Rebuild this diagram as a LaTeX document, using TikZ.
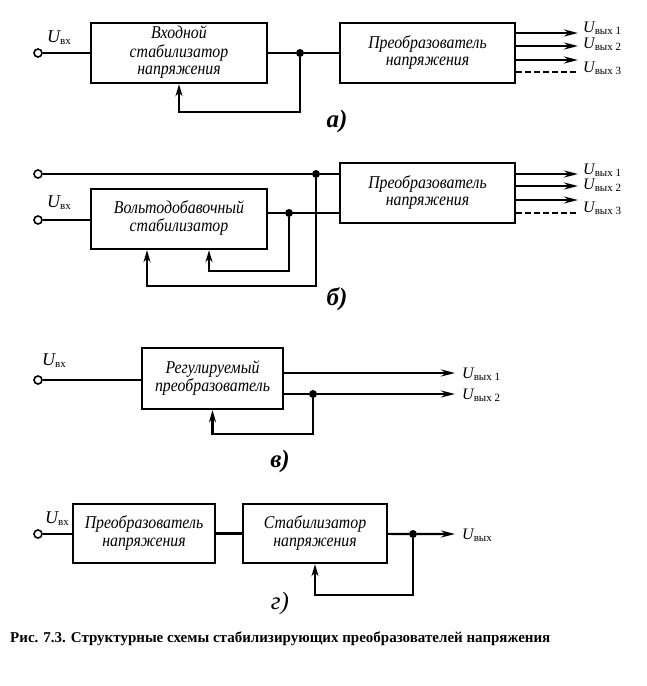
\documentclass[tikz,border=0pt]{standalone}
\usepackage{fontspec}
\setmainfont{Liberation Serif}
\usetikzlibrary{arrows.meta}

\tikzset{
  blk/.style={draw, line width=2.4pt, inner sep=0pt,
    font=\itshape\fontsize{18}{17.5}\selectfont},
  term/.style={draw, circle, fill=white, line width=1.6pt, inner sep=0pt, minimum size=8pt},
  dot/.style={circle, fill, inner sep=0pt, minimum size=8pt},
  wire/.style={line width=2.2pt},
  fb/.style={wire, -{Stealth[length=12pt,width=7pt]}},
  outw/.style={wire, -{Stealth[length=14pt,width=7pt]}},
  ulbl/.style={anchor=base west, inner sep=0pt, xshift=5pt},
  uin/.style={anchor=base west, inner sep=0pt},
  lbl/.style={font=\bfseries\itshape\fontsize{25}{25}\selectfont},
}
\newcommand{\btxt}[1]{\scalebox{0.88}[1]{\begin{tabular}{@{}c@{}}#1\end{tabular}}}
\newcommand{\Uin}{{\itshape\fontsize{18}{18}\selectfont U}\raisebox{-2pt}{\fontsize{11}{11}\selectfont вх}}
\newcommand{\Uout}[1]{{\itshape\fontsize{16}{16}\selectfont U}\raisebox{-2pt}{\fontsize{11}{11}\selectfont вых~#1}}

\begin{document}
\begin{tikzpicture}[x=1pt,y=-1pt]
\useasboundingbox (0,0) rectangle (647,686);

% а)
\node[term] (ain) at (38,53) {};
\node[uin] (auin) at (47,42) {\Uin};
\node[blk, minimum width=176pt, minimum height=60pt] (a1) at (179,53) {\btxt{Входной\\стабилизатор\\напряжения}};
\node[blk, minimum width=175pt, minimum height=60pt] (a2) at (427.5,53) {\btxt{Преобразователь\\напряжения}};
\node[dot] (ad) at (300,53) {};
\draw[wire] (ain) -- (a1);
\draw[wire] (a1) -- (ad) -- (a2);
\draw[fb] (ad) -- (ad |- 0,112) -| (a1.south);
\foreach \y/\k in {33/1,46/2,60/3}{
  \coordinate (ao\k) at (578,\y);
  \draw[outw] (a2.east |- ao\k) -- (ao\k);
}
\coordinate (ao4) at (578,72);
\draw[wire, dash pattern=on 6pt off 3pt] (a2.east |- ao4) -- (ao4);
\node[ulbl] (aol1) at ([yshift=1pt]ao1) {\Uout{1}};
\node[ulbl] (aol2) at ([yshift=-2pt]ao2) {\Uout{2}};
\node[ulbl] (aol3) at (ao4) {\Uout{3}};
\node[lbl] (la) at (337,121) {а)};

% б)
\node[term] (bin1) at (38,174) {};
\node[term] (bin2) at (38,220) {};
\node[uin] (buin) at (47,207) {\Uin};
\node[blk, minimum width=176pt, minimum height=60pt] (b1) at (179,219) {\btxt{Вольтодобавочный\\стабилизатор}};
\node[blk, minimum width=175pt, minimum height=60pt] (b2) at (427.5,193) {\btxt{Преобразователь\\напряжения}};
\node[dot] (bd1) at (316,174) {};
\node[dot] (bd2) at (289,213) {};
\draw[wire] (bin1) -- (bd1) -- (b2.west |- bd1);
\draw[wire] (bin2) -- (bin2 -| b1.west);
\draw[wire] (b1.east |- bd2) -- (bd2) -- (b2.west |- bd2);
\draw[fb] (bd2) -- (bd2 |- 0,271) -| ([xshift=30pt]b1.south);
\draw[fb] (bd1) -- (bd1 |- 0,286) -| ([xshift=-32pt]b1.south);
\foreach \y/\k in {174/1,186/2,200/3}{
  \coordinate (bo\k) at (578,\y);
  \draw[outw] (b2.east |- bo\k) -- (bo\k);
}
\coordinate (bo4) at (578,213);
\draw[wire, dash pattern=on 6pt off 3pt] (b2.east |- bo4) -- (bo4);
\node[ulbl] (bol1) at ([yshift=0pt]bo1) {\Uout{1}};
\node[ulbl] (bol2) at ([yshift=-3pt]bo2) {\Uout{2}};
\node[ulbl] (bol3) at ([yshift=1pt]bo4) {\Uout{3}};
\node[lbl] (lb) at (337,299) {б)};

% в)
\node[term] (vin) at (38,380) {};
\node[uin] (vuin) at (42,365) {\Uin};
\node[blk, minimum width=141pt, minimum height=61pt] (v) at (212.5,378.5) {\btxt{Регулируемый\\преобразователь}};
\node[dot] (vd) at (313,394) {};
\draw[wire] (vin) -- (vin -| v.west);
\coordinate (vo1) at (455,373);
\coordinate (vo2) at (455,394);
\draw[outw] (v.east |- vo1) -- (vo1);
\draw[outw] (v.east |- vo2) -- (vd) -- (vo2);
\draw[fb] (vd) -- (vd |- 0,434) -| (v.south);
\node[ulbl, xshift=2pt] (vol1) at ([yshift=-5pt]vo1) {\Uout{1}};
\node[ulbl, xshift=2pt] (vol2) at ([yshift=-5pt]vo2) {\Uout{2}};
\node[lbl] (lv) at (280,461) {в)};

% г)
\node[term] (gin) at (38,534) {};
\node[uin] (guin) at (45,523) {\Uin};
\node[blk, minimum width=142pt, minimum height=59pt] (g1) at (144,533.5) {\btxt{Преобразователь\\напряжения}};
\node[blk, minimum width=144pt, minimum height=59pt] (g2) at (315,533.5) {\btxt{Стабилизатор\\напряжения}};
\node[dot] (gd) at (413,534) {};
\coordinate (go) at (455,534);
\draw[wire] (gin) -- (gin -| g1.west);
\draw[wire] (g1) -- (g2);
\draw[outw] (g2) -- (gd) -- (go);
\draw[fb] (gd) -- (gd |- 0,595) -| (g2.south);
\node[ulbl, xshift=2pt] (gol) at ([yshift=-5pt]go) {{\itshape\fontsize{16}{16}\selectfont U}\raisebox{-2pt}{\fontsize{11}{11}\selectfont вых}};
\node[lbl, font=\itshape\fontsize{25}{25}\selectfont] (lg) at (280,603) {г)};

% caption
\node[anchor=base west, inner sep=0pt, font=\bfseries\fontsize{15}{15}\selectfont] (cap) at (10,642)
  {Рис. 7.3. Структурные схемы стабилизирующих преобразователей напряжения};
\end{tikzpicture}
\end{document}
